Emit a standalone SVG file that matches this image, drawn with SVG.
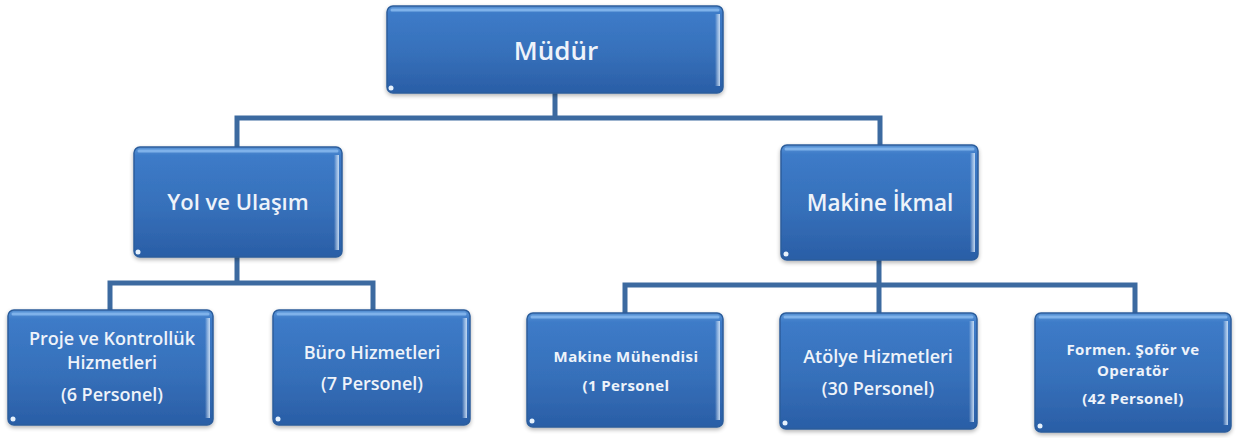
<svg xmlns="http://www.w3.org/2000/svg" width="1237" height="438" viewBox="0 0 1237 438">
<defs>
<linearGradient id="fill" x1="0" y1="0" x2="0" y2="1">
<stop offset="0" stop-color="#5b95d6"/>
<stop offset="0.08" stop-color="#3d7bc8"/>
<stop offset="0.55" stop-color="#3670ba"/>
<stop offset="1" stop-color="#2a5ea6"/>
</linearGradient>
<linearGradient id="edge" x1="0" y1="0" x2="1" y2="0">
<stop offset="0" stop-color="#ffffff" stop-opacity="0"/>
<stop offset="1" stop-color="#cfe3f8" stop-opacity="0.9"/>
</linearGradient>
<filter id="sh" x="-10%" y="-10%" width="120%" height="130%">
<feGaussianBlur in="SourceAlpha" stdDeviation="2"/>
<feOffset dx="0" dy="2"/>
<feComponentTransfer><feFuncA type="linear" slope="0.3"/></feComponentTransfer>
<feMerge><feMergeNode/><feMergeNode in="SourceGraphic"/></feMerge>
</filter>
</defs>
<style>
.box{fill:url(#fill);stroke:#2c5d9c;stroke-width:1.5;filter:url(#sh)}
.hl{fill:none;stroke:#7fb2ea;stroke-width:3;stroke-linecap:round}
.dot{fill:#e6f1fc}
.t{font-family:"Open Sans","Liberation Sans",sans-serif;fill:#eef3fa;text-anchor:middle;font-weight:600}
.s{font-size:18px}
.b{font-size:15px;font-weight:bold;letter-spacing:0.4px}
.conn{stroke:#3c6aa0;stroke-width:5;fill:none;stroke-linejoin:miter}
</style>
<rect width="1237" height="438" fill="#ffffff"/>
<g id="connectors">
<path class="conn" d="M555,93 V118 M237,147 V118 H880 V145"/>
<path class="conn" d="M237,257 V283 M110,310 V283 H373 V310"/>
<path class="conn" d="M879,260 V285 M625,313 V285 H1135 V313 M879,285 V313"/>
</g>
<g id="mudur">
<rect class="box" x="387" y="6" width="336" height="87" rx="6"/>
<path class="hl" d="M392,10 H718"/>
<rect x="715" y="14" width="5" height="72" fill="url(#edge)"/>
<circle class="dot" cx="391" cy="88" r="2.5"/>
<text class="t" x="556" y="60" font-size="26">Müdür</text>
</g>
<g id="yol">
<rect class="box" x="134" y="147" width="208" height="110" rx="6"/>
<path class="hl" d="M139,151 H337"/>
<rect x="334" y="155" width="5" height="95" fill="url(#edge)"/>
<circle class="dot" cx="138" cy="252" r="2.5"/>
<text class="t" x="238" y="210" font-size="22">Yol ve Ulaşım</text>
</g>
<g id="makine">
<rect class="box" x="781" y="145" width="197" height="115" rx="6"/>
<path class="hl" d="M786,149 H973"/>
<rect x="970" y="153" width="5" height="99" fill="url(#edge)"/>
<circle class="dot" cx="786" cy="254" r="2.5"/>
<text class="t" x="880" y="211" font-size="22.5">Makine İkmal</text>
</g>
<g id="proje">
<rect class="box" x="8" y="310" width="205" height="115" rx="6"/>
<path class="hl" d="M13,314 H208"/>
<rect x="205" y="318" width="5" height="100" fill="url(#edge)"/>
<circle class="dot" cx="13" cy="419" r="2.5"/>
<text class="t s" x="112" y="345">Proje ve Kontrollük</text>
<text class="t s" x="112" y="369">Hizmetleri</text>
<text class="t s" x="112" y="401">(6 Personel)</text>
</g>
<g id="buro">
<rect class="box" x="273" y="310" width="197" height="115" rx="6"/>
<path class="hl" d="M278,314 H465"/>
<rect x="462" y="318" width="5" height="100" fill="url(#edge)"/>
<circle class="dot" cx="278" cy="419" r="2.5"/>
<text class="t s" x="372" y="359">Büro Hizmetleri</text>
<text class="t s" x="372" y="390">(7 Personel)</text>
</g>
<g id="muhendis">
<rect class="box" x="527" y="313" width="196" height="114" rx="6"/>
<path class="hl" d="M532,317 H718"/>
<rect x="715" y="321" width="5" height="99" fill="url(#edge)"/>
<circle class="dot" cx="532" cy="421" r="2.5"/>
<text class="t b" x="626" y="362">Makine Mühendisi</text>
<text class="t b" x="626" y="391">(1 Personel</text>
</g>
<g id="atolye">
<rect class="box" x="780" y="313" width="197" height="116" rx="6"/>
<path class="hl" d="M785,317 H972"/>
<rect x="969" y="321" width="5" height="101" fill="url(#edge)"/>
<circle class="dot" cx="785" cy="423" r="2.5"/>
<text class="t s" x="878" y="363">Atölye Hizmetleri</text>
<text class="t s" x="878" y="395">(30 Personel)</text>
</g>
<g id="formen">
<rect class="box" x="1035" y="313" width="196" height="119" rx="6"/>
<path class="hl" d="M1040,317 H1226"/>
<rect x="1223" y="321" width="5" height="104" fill="url(#edge)"/>
<circle class="dot" cx="1040" cy="426" r="2.5"/>
<text class="t b" x="1133" y="355">Formen. Şoför ve</text>
<text class="t b" x="1133" y="376">Operatör</text>
<text class="t b" x="1133" y="404">(42 Personel)</text>
</g>
</svg>
